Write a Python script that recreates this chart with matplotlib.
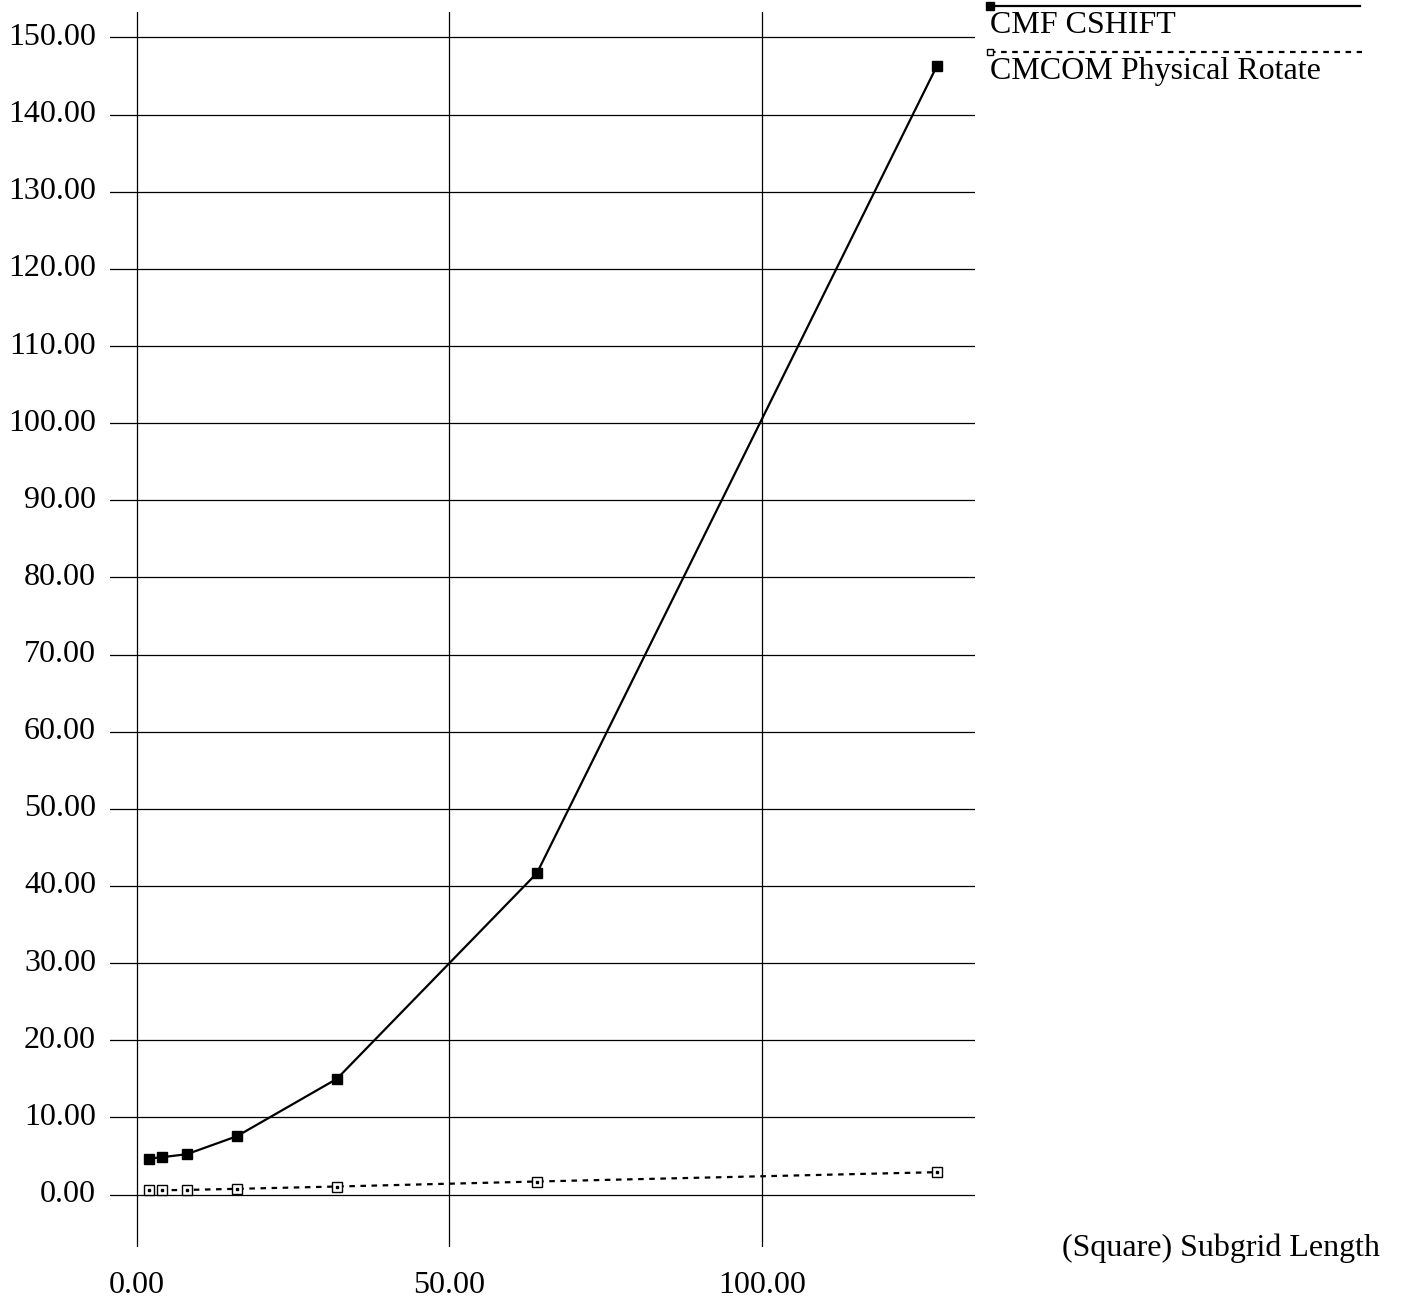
import matplotlib
matplotlib.use("Agg")
import matplotlib.pyplot as plt
from matplotlib.lines import Line2D

plt.rcParams['font.family'] = ['Liberation Serif', 'DejaVu Serif']

# Subgrid lengths and timings
subgrid_length = [2, 4, 8, 16, 32, 64, 128]
cmf_cshift = [4.67, 4.84, 5.23, 7.56, 15.0, 41.66, 146.3]
cmcom_rotate = [0.56, 0.56, 0.6, 0.74, 1.04, 1.69, 2.9]

series_names = ["CMF CSHIFT", "CMCOM Physical Rotate"]
x_ticks = [0, 50, 100]
y_ticks = list(range(0, 151, 10))

W, H = 1402, 1302
fig = plt.figure(figsize=(W / 100, H / 100), dpi=100)
ax = fig.add_axes([110 / W, 1 - 1247 / H, (975 - 110) / W, (1247 - 12) / H])

fs = 23
dot = (0, (2.5, 2.5))

ax.plot(subgrid_length, cmf_cshift, color='black', lw=1.6,
        marker='s', ms=6.5, mfc='black', mec='black', zorder=3)
ax.plot(subgrid_length, cmcom_rotate, color='black', lw=1.6, linestyle=dot,
        marker='s', ms=6.5, mfc='white', mec='black', mew=1.0, zorder=3)
ax.plot(subgrid_length, cmcom_rotate, linestyle='none', marker='s', ms=2,
        mfc='black', mec='black', zorder=4)

ax.set_xlim(-4.3, 134.1)
ax.set_ylim(-6.8, 153.3)

for yv in y_ticks:
    ax.axhline(yv, color='black', lw=0.9, zorder=1)
for xv in x_ticks:
    ax.axvline(xv, color='black', lw=0.9, zorder=1)

for s in ax.spines.values():
    s.set_visible(False)
ax.set_xticks([])
ax.set_yticks([])

# Y tick labels
for yv in y_ticks:
    ax.annotate(f"{yv:.2f}", xy=(0, yv), xycoords=('axes fraction', 'data'),
                xytext=(-14 * 0.72, 0), textcoords='offset points',
                ha='right', va='center', fontsize=fs)
# X tick labels
for xv in x_ticks:
    ax.annotate(f"{xv:.2f}", xy=(xv, 0), xycoords=('data', 'axes fraction'),
                xytext=(0, -24 * 0.72), textcoords='offset points',
                ha='center', va='top', fontsize=fs)

fig.text(1380 / W, 1 - 1248 / H, "(Square) Subgrid Length",
         ha='right', va='center', fontsize=fs)

# Legend drawn in figure pixels
def fx(px):
    return px / W

def fy(py):
    return 1 - py / H

fig.add_artist(Line2D([fx(990), fx(1360)], [fy(6), fy(6)], color='black', lw=1.6))
fig.add_artist(Line2D([fx(990)], [fy(6)], marker='s', ms=6, mfc='black',
                      mec='black', linestyle='none'))
fig.text(fx(990), fy(33), series_names[0], ha='left', va='baseline', fontsize=fs)

fig.add_artist(Line2D([fx(990), fx(1362)], [fy(52), fy(52)], color='black', lw=1.6,
                      linestyle=dot))
fig.add_artist(Line2D([fx(990)], [fy(52)], marker='s', ms=5, mfc='white',
                      mec='black', mew=1.0, linestyle='none'))
fig.text(fx(990), fy(79), series_names[1], ha='left', va='baseline', fontsize=fs)

fig.savefig("out.png", dpi=100, facecolor='white')
